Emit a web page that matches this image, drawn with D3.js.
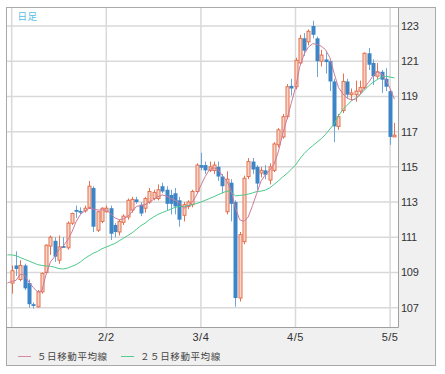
<!DOCTYPE html>
<html>
<head>
<meta charset="utf-8">
<script src="https://cdn.jsdelivr.net/npm/d3@7"></script>
<style>
body{margin:0;background:#fff;}
svg{display:block;font-family:"Liberation Sans",Arial,sans-serif;}
</style>
</head>
<body>
<svg width="445" height="374"></svg>
<script>
// daily candles, one entry per session (index 0..89)
const openP =[108.4,109.4,108.6,109.4,108.4,107.2,107.05,107.9,109.0,110.5,
  110.8,109.7,110.5,110.4,111.8,112.55,112.5,112.5,112.7,113.8,
  111.4,111.9,112.45,112.65,111.7,111.3,111.85,112.15,112.55,113.15,
  112.85,112.65,113.0,113.2,113.2,113.9,113.7,113.4,113.5,113.1,
  112.25,112.75,112.85,113.6,115.1,115.1,114.8,114.8,115.0,114.45,
  112.45,114.1,113.0,107.55,110.75,114.45,115.3,115.0,114.65,114.8,
  114.25,114.8,116.25,116.7,117.85,119.6,119.55,120.9,122.3,122.1,
  123.0,122.3,121.0,121.1,121.0,119.85,117.3,118.2,119.85,119.1,
  119.1,119.3,119.5,121.45,120.9,120.15,120.4,120.0,119.3,116.7];
const highP =[109.4,110.2,109.7,109.5,108.6,107.3,108.0,109.0,110.6,111.1,
  111.0,111.1,111.0,111.9,112.4,112.8,112.7,112.8,114.2,113.9,
  112.5,112.7,112.8,112.8,111.8,112.0,112.3,113.2,113.3,113.3,
  113.0,113.3,113.8,113.7,114.0,114.1,113.9,113.7,113.8,113.3,
  113.0,113.1,113.7,115.2,115.8,115.3,115.3,115.3,115.3,114.6,
  114.75,114.3,113.1,111.3,114.5,115.5,115.5,115.1,115.0,115.1,
  115.2,116.4,117.2,118.0,119.7,120.0,121.2,122.5,122.6,122.8,
  123.3,122.4,121.65,121.5,121.1,120.0,118.0,120.3,120.0,119.45,
  119.9,119.9,121.5,121.75,121.1,120.9,120.5,120.6,119.4,117.5];
const lowP  =[107.8,108.8,108.5,108.0,107.0,106.95,107.0,107.8,108.9,110.0,
  109.6,109.5,110.4,110.3,111.7,112.1,112.3,112.4,112.6,111.3,
  111.3,111.8,112.4,110.85,111.0,111.1,111.7,112.0,112.4,112.9,
  112.2,112.4,112.9,113.1,113.1,113.5,112.5,112.3,112.3,111.6,
  111.9,112.6,112.7,113.5,114.8,114.6,114.7,114.6,114.2,113.5,
  112.3,111.9,107.05,107.35,110.6,114.3,114.6,113.7,114.4,114.3,
  114.0,114.7,116.1,116.6,117.7,119.05,119.4,120.8,121.3,121.9,
  122.3,120.1,120.7,120.3,119.3,116.4,117.1,118.05,118.9,118.8,
  118.7,119.15,119.4,120.5,119.65,120.0,119.2,119.3,116.25,116.7];
const closeP=[109.1,109.2,109.4,108.1,107.2,107.1,107.9,108.95,110.55,111.0,
  109.9,110.45,110.4,111.8,112.35,112.45,112.4,112.65,113.9,111.6,
  112.45,112.65,112.65,111.2,111.3,111.9,112.2,113.1,113.15,113.0,
  112.35,113.2,113.6,113.55,113.7,113.6,112.9,112.9,112.75,112.0,
  112.85,113.0,113.6,115.1,114.95,114.8,115.0,115.1,114.45,113.9,
  114.3,112.9,107.55,111.15,114.35,115.3,114.85,114.05,114.8,114.55,
  115.0,116.3,117.1,117.85,119.55,119.45,121.05,122.3,121.6,122.7,
  122.5,121.0,121.35,120.95,119.85,117.3,117.85,119.85,119.1,119.2,
  119.3,119.5,121.45,120.8,120.15,120.4,119.95,119.55,116.7,116.8];

// moving averages start one session earlier (index -1..89)
const ma5 =[108.4,108.5,108.55,108.9,108.85,108.45,108.15,107.9,107.95,108.9,109.6,
  109.9,110.3,110.5,110.85,111.3,111.9,112.3,112.5,112.65,112.6,
  112.55,112.55,112.55,112.35,112.1,112.0,112.05,112.2,112.45,112.75,
  112.8,112.85,113.0,113.15,113.3,113.4,113.35,113.2,113.1,112.95,
  112.65,112.75,113.0,113.4,113.95,114.45,114.85,114.95,114.85,114.5,
  114.2,113.7,112.7,112.0,111.9,112.15,112.8,113.5,114.2,114.55,
  114.8,115.15,115.85,116.85,117.7,118.6,119.5,120.7,121.4,121.8,
  122.0,121.95,121.85,121.65,121.2,120.3,119.5,119.15,118.9,118.8,
  118.85,119.1,119.5,119.8,120.15,120.4,120.3,119.95,119.45,118.85];
const ma25=[110.0,110.0,109.95,109.85,109.75,109.65,109.55,109.45,109.4,109.37,109.35,
  109.3,109.22,109.2,109.25,109.35,109.45,109.6,109.8,109.95,110.1,
  110.2,110.35,110.45,110.55,110.65,110.8,110.95,111.1,111.25,111.45,
  111.65,111.8,112.0,112.15,112.3,112.4,112.5,112.6,112.7,112.75,
  112.75,112.8,112.85,112.92,113.0,113.1,113.2,113.3,113.42,113.52,
  113.62,113.6,113.35,113.38,113.4,113.45,113.52,113.6,113.62,113.68,
  113.8,114.0,114.2,114.42,114.62,114.85,115.1,115.45,115.75,116.0,
  116.2,116.4,116.6,116.85,117.15,117.45,117.9,118.25,118.5,118.75,
  118.9,119.1,119.35,119.6,119.8,119.95,120.1,120.15,120.1,120.05];

const yTicks=[107,109,111,113,115,117,119,121,123];
const xTickIdx=[0,22,44,66,88];
const xTickLabels=['','2/2','3/4','4/5','5/5'];

const svg=d3.select('svg');
const plot={left:7,top:8,right:398,bottom:327};

const x=d3.scaleLinear().domain([0,89]).range([11.7,394.4]);
const y=d3.scaleLinear().domain([107,123]).range([307.7,26]);

/* frame */
svg.append('rect')
  .attr('x',6.5).attr('y',7.5).attr('width',429).attr('height',358)
  .attr('fill','#f0f0f0').attr('stroke','#a9a9a9');
svg.append('rect')
  .attr('x',plot.left).attr('y',plot.top)
  .attr('width',plot.right-plot.left).attr('height',plot.bottom-plot.top)
  .attr('fill','#fff');

svg.append('clipPath').attr('id','clip')
  .append('rect')
  .attr('x',plot.left).attr('y',plot.top)
  .attr('width',plot.right-plot.left).attr('height',plot.bottom-plot.top);

/* grid */
const grid=svg.append('g').attr('stroke','#d9d9d9').attr('stroke-width',1.5);
grid.selectAll('line.h').data(yTicks).enter().append('line')
  .attr('x1',plot.left).attr('x2',plot.right)
  .attr('y1',d=>y(d)).attr('y2',d=>y(d));
grid.selectAll('line.v').data(xTickIdx).enter().append('line')
  .attr('x1',d=>x(d)).attr('x2',d=>x(d))
  .attr('y1',plot.top).attr('y2',plot.bottom);

/* plot borders */
svg.append('line').attr('x1',6).attr('x2',plot.right+0.5)
  .attr('y1',plot.bottom+0.5).attr('y2',plot.bottom+0.5).attr('stroke','#a0a0a0');
svg.append('line').attr('x1',plot.right+0.5).attr('x2',plot.right+0.5)
  .attr('y1',7).attr('y2',plot.bottom+0.5).attr('stroke','#a0a0a0');

/* candles */
const data=openP.map((o,i)=>({i,o,h:highP[i],l:lowP[i],c:closeP[i]}));
const cg=svg.append('g').attr('clip-path','url(#clip)');
const up='#e4714f', upFill='#fbd6c8', down='#3d85c6', downWick='#6ea6da';

cg.selectAll('line.wick').data(data).enter().append('line')
  .attr('class','wick')
  .attr('x1',d=>Math.round(x(d.i))+0.5).attr('x2',d=>Math.round(x(d.i))+0.5)
  .attr('y1',d=>y(d.h)).attr('y2',d=>y(d.l))
  .attr('stroke',d=>d.c>=d.o?up:downWick);

cg.selectAll('rect.body').data(data).enter().append('rect')
  .attr('class','body')
  .attr('x',d=>d.c>=d.o?Math.round(x(d.i))-1:Math.round(x(d.i))-1.5)
  .attr('width',d=>d.c>=d.o?3:4)
  .attr('y',d=>y(Math.max(d.o,d.c)))
  .attr('height',d=>Math.max(1,Math.abs(y(d.o)-y(d.c))))
  .attr('fill',d=>d.c>=d.o?upFill:down)
  .attr('stroke',d=>d.c>=d.o?up:'none');

/* moving averages */
const maLine=d3.line().x((d,k)=>x(k-1)).y(d=>y(d));
cg.append('path').datum(ma25).attr('d',maLine)
  .attr('fill','none').attr('stroke','#4cc98a').attr('stroke-width',1);
cg.append('path').datum(ma5).attr('d',maLine)
  .attr('fill','none').attr('stroke','#cc7a9a').attr('stroke-width',1);

/* y labels */
svg.append('g').selectAll('text').data(yTicks).enter().append('text')
  .attr('x',401).attr('y',d=>y(d)+4)
  .attr('font-size',11).attr('letter-spacing',-0.3).attr('fill','#333')
  .text(d=>d);

/* x labels */
svg.append('g').selectAll('text').data(xTickIdx).enter().append('text')
  .attr('x',d=>x(d)).attr('y',341)
  .attr('text-anchor','middle')
  .attr('font-size',11).attr('letter-spacing',0.5).attr('fill','#333')
  .text((d,k)=>xTickLabels[k]);

/* title */
svg.append('text').attr('x',17.5).attr('y',20)
  .attr('font-family','"Noto Sans CJK JP",sans-serif')
  .attr('font-size',9.5).attr('letter-spacing',0.5).attr('fill','#55bde8')
  .text('日足');

/* legend */
const legend=[
  {label:'５日移動平均線',color:'#d48aa6',x:18},
  {label:'２５日移動平均線',color:'#5cc894',x:121}
];
const lg=svg.append('g');
legend.forEach(l=>{
  lg.append('line').attr('x1',l.x).attr('x2',l.x+13)
    .attr('y1',356.5).attr('y2',356.5).attr('stroke',l.color);
  lg.append('text').attr('x',l.x+19).attr('y',360)
    .attr('font-family','"Noto Sans CJK JP",sans-serif')
    .attr('font-size',9.5).attr('letter-spacing',0.6).attr('fill','#444')
    .text(l.label);
});
</script>
</body>
</html>
